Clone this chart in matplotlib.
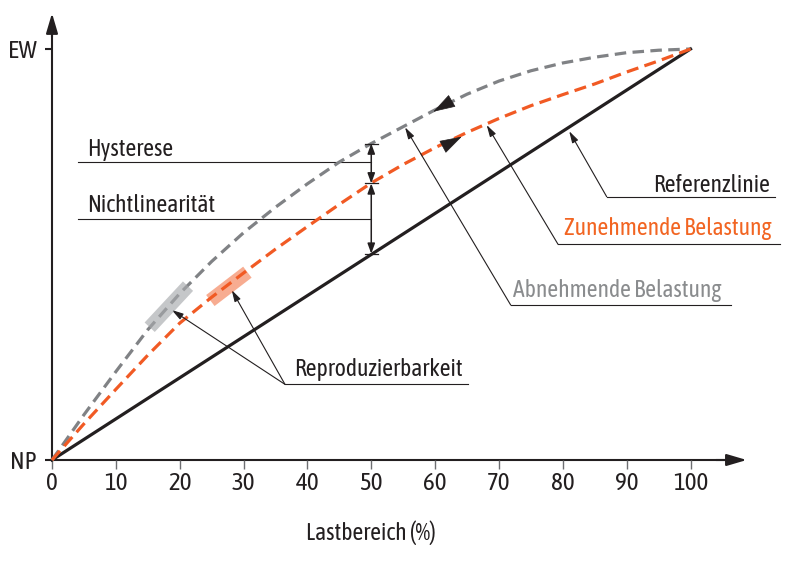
import matplotlib
matplotlib.use("Agg")
import matplotlib.pyplot as plt
from matplotlib import font_manager

# schmale Schrift wie im Original, falls vorhanden
vorhanden = {f.name for f in font_manager.fontManager.ttflist}
schrift = "DejaVu Sans"
for name in ["Asap Condensed", "Archivo Narrow", "Encode Sans Condensed",
             "Barlow Semi Condensed", "Roboto"]:
    if name in vorhanden:
        schrift = name
        break
plt.rcParams['font.family'] = [schrift, 'DejaVu Sans']

# Lastbereich in %
last = [0, 5, 10, 15, 20, 25, 30, 35, 40, 45, 50, 55, 60, 65, 70, 75, 80, 85, 90, 95, 100]
# Referenzlinie (NP -> EW)
referenz_x = [0, 100]
referenz_y = [0, 1]
# Abnehmende Belastung (grau)
abnehmend = [0, 0.110, 0.215, 0.317, 0.405, 0.483, 0.553, 0.615, 0.672, 0.725, 0.770,
             0.811, 0.852, 0.890, 0.922, 0.947, 0.966, 0.980, 0.991, 0.997, 1.0]
# Zunehmende Belastung (orange)
zunehmend = [0, 0.088, 0.172, 0.255, 0.333, 0.396, 0.455, 0.513, 0.568, 0.622, 0.674,
             0.719, 0.760, 0.797, 0.831, 0.862, 0.889, 0.915, 0.944, 0.971, 1.0]
# Reproduzierbarkeit-Bereiche
repro_grau_x = [15.3, 21.3]
repro_grau_y = [0.323, 0.423]
repro_orange_x = [24.8, 30.6]
repro_orange_y = [0.388, 0.457]
# Messpunkte bei 50 %
mess_x = 50
hyst_oben = 0.770
hyst_mitte = 0.673
hyst_unten = 0.502

x_ticks = [0, 10, 20, 30, 40, 50, 60, 70, 80, 90, 100]
y_ticks = [0, 1]
y_ticklabels = ["NP", "EW"]

schwarz = "#231f20"
grau = "#808285"
orange = "#f15a24"
gs = 17  # Schriftgroesse

fig = plt.figure(figsize=(7.93, 5.63), dpi=100)
ax = fig.add_axes([0, 0, 1, 1])
ax.set_xlim(-8.144, 116.05)
ax.set_ylim(-0.2506, 1.1192)

# Achsen
for s in ["top", "right"]:
    ax.spines[s].set_visible(False)
ax.spines["left"].set_position(("data", 0))
ax.spines["bottom"].set_position(("data", 0))
ax.spines["left"].set_bounds(0, 1.05)
ax.spines["bottom"].set_bounds(0, 106)
for s in ["left", "bottom"]:
    ax.spines[s].set_linewidth(1.5)
    ax.spines[s].set_color(schwarz)
    ax.spines[s].set_zorder(1)

ax.set_xticks(x_ticks)
ax.set_xticklabels([str(t) for t in x_ticks])
ax.set_yticks(y_ticks)
ax.set_yticklabels(y_ticklabels)
ax.tick_params(axis="x", direction="out", length=6.5, width=1.0, color="#6d6e71",
               labelsize=18, pad=2, labelcolor=schwarz)
ax.tick_params(axis="y", direction="out", length=5, width=1.5, color=schwarz,
               labelsize=18, pad=6, labelcolor=schwarz)

# Pfeilspitzen der Achsen
ax.annotate("", xy=(108.8, 0), xytext=(104, 0), annotation_clip=False,
            arrowprops=dict(arrowstyle="-|>,head_length=1.22,head_width=0.36",
                            mutation_scale=10, color=schwarz, lw=1.5,
                            shrinkA=0, shrinkB=0))
ax.annotate("", xy=(0, 1.087), xytext=(0, 1.03), annotation_clip=False,
            arrowprops=dict(arrowstyle="-|>,head_length=1.22,head_width=0.36",
                            mutation_scale=10, color=schwarz, lw=1.5,
                            shrinkA=0, shrinkB=0))

ax.text(50, -0.178, "Lastbereich (%)", fontsize=gs, color=schwarz,
        ha="center", va="center")

# Kurven
ax.plot(referenz_x, referenz_y, color=schwarz, lw=2.3, zorder=3)
ax.plot(last, abnehmend, color=grau, lw=2.3, dashes=(3.6, 2.0), zorder=3)
ax.plot(last, zunehmend, color=orange, lw=2.3, dashes=(3.8, 2.0), zorder=3)

# Reproduzierbarkeit
ax.plot(repro_grau_x, repro_grau_y, color="#a7a9ac", alpha=0.65, lw=10,
        solid_capstyle="butt", zorder=4)
ax.plot(repro_orange_x, repro_orange_y, color=orange, alpha=0.5, lw=10,
        solid_capstyle="butt", zorder=4)

# Richtungspfeile auf den Kurven
ax.annotate("", xy=(59.72, 0.8474), xytext=(62.33, 0.871),
            arrowprops=dict(arrowstyle="-|>,head_length=1.45,head_width=0.45",
                            mutation_scale=10, color=schwarz, lw=0.5,
                            shrinkA=0, shrinkB=0), zorder=5)
ax.annotate("", xy=(64.17, 0.7866), xytext=(61.24, 0.7623),
            arrowprops=dict(arrowstyle="-|>,head_length=1.45,head_width=0.45",
                            mutation_scale=10, color=schwarz, lw=0.5,
                            shrinkA=0, shrinkB=0), zorder=5)

# Hysterese / Nichtlinearitaet Masspfeile
masspfeil = dict(arrowstyle="<|-|>,head_length=0.6,head_width=0.22",
                 mutation_scale=10, color=schwarz, lw=1.1, shrinkA=0, shrinkB=0)
ax.annotate("", xy=(mess_x, hyst_oben), xytext=(mess_x, hyst_mitte), arrowprops=masspfeil)
ax.annotate("", xy=(mess_x, hyst_mitte), xytext=(mess_x, hyst_unten), arrowprops=masspfeil)
for yy in [hyst_oben, hyst_mitte, hyst_unten]:
    ax.plot([mess_x - 1.0, mess_x + 1.0], [yy, yy], color=schwarz, lw=0.9, zorder=5)

ax.plot([4.12, mess_x], [0.7243, 0.7243], color=schwarz, lw=0.8)
ax.plot([4.12, mess_x], [0.587, 0.587], color=schwarz, lw=0.8)
ax.text(5.48, 0.7397, "Hysterese", fontsize=gs, color=schwarz, va="baseline", ha="left")
ax.text(5.48, 0.604, "Nichtlinearität", fontsize=gs, color=schwarz, va="baseline", ha="left")

# Beschriftungen mit Hinweislinien
hinweis = dict(arrowstyle="-|>,head_length=0.7,head_width=0.2",
               mutation_scale=10, color=schwarz, lw=0.8, shrinkA=0, shrinkB=0)

# Referenzlinie
ax.annotate("", xy=(81.0, 0.80), xytext=(86.87, 0.6406), arrowprops=hinweis)
ax.plot([86.87, 113.2], [0.6406, 0.6406], color=schwarz, lw=0.8)
ax.text(94.08, 0.6513, "Referenzlinie", fontsize=gs, color=schwarz, va="baseline", ha="left")

# Zunehmende Belastung
ax.annotate("", xy=(68.08, 0.815), xytext=(79.25, 0.5248), arrowprops=hinweis)
ax.plot([79.25, 114.0], [0.5248, 0.5248], color=schwarz, lw=0.8)
ax.text(80.19, 0.5474, "Zunehmende Belastung", fontsize=gs, color="#f26522",
        va="baseline", ha="left")

# Abnehmende Belastung
ax.annotate("", xy=(55.29, 0.8095), xytext=(71.84, 0.377), arrowprops=hinweis)
ax.plot([71.84, 106.3], [0.377, 0.377], color=schwarz, lw=0.8)
ax.text(72.2, 0.3973, "Abnehmende Belastung", fontsize=gs, color="#8a8c8e",
        va="baseline", ha="left")

# Reproduzierbarkeit
ax.annotate("", xy=(18.75, 0.365), xytext=(36.49, 0.184), arrowprops=hinweis)
ax.annotate("", xy=(28.14, 0.4136), xytext=(36.49, 0.184), arrowprops=hinweis)
ax.plot([36.49, 65.2], [0.184, 0.184], color=schwarz, lw=0.8)
ax.text(37.9, 0.2044, "Reproduzierbarkeit", fontsize=gs, color=schwarz,
        va="baseline", ha="left")

fig.savefig("out.png", dpi=100)
